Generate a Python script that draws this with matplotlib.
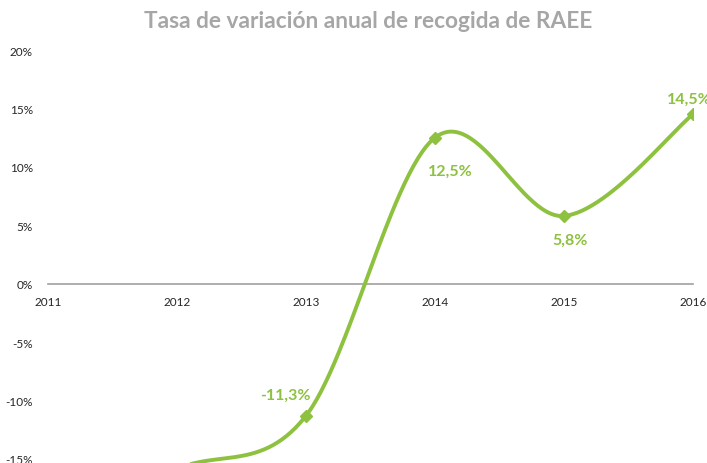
import numpy as np
import matplotlib
matplotlib.use("Agg")
import matplotlib.pyplot as plt

years = [2011, 2012, 2013, 2014, 2015, 2016]
values = [-21.0, -15.85, -11.3, 12.5, 5.8, 14.5]
labels = {2013: "-11,3%", 2014: "12,5%", 2015: "5,8%", 2016: "14,5%"}
yticks = [-15, -10, -5, 0, 5, 10, 15, 20]
title = "Tasa de variación anual de recogida de RAEE"

GREEN = "#8DC13F"
GREY_T = "#A6A6A6"

plt.rcParams['font.family'] = ['Lato', 'DejaVu Sans']

def smooth(xs, ys, n=60):
    pts = np.column_stack([xs, ys]).astype(float)
    P = np.vstack([pts[0], pts, pts[-1]])
    out = []
    for i in range(1, len(P) - 2):
        p0, p1, p2, p3 = P[i - 1], P[i], P[i + 1], P[i + 2]
        c1 = p1 + (p2 - p0) / 6.0
        c2 = p2 - (p3 - p1) / 6.0
        t = np.linspace(0, 1, n)[:, None]
        seg = ((1 - t) ** 3) * p1 + 3 * ((1 - t) ** 2) * t * c1 + 3 * (1 - t) * t ** 2 * c2 + t ** 3 * p2
        out.append(seg if i == 1 else seg[1:])
    s = np.vstack(out)
    return s[:, 0], s[:, 1]

W, H = 707, 464
fig = plt.figure(figsize=(W / 100, H / 100), dpi=100)
left, right = 48, 693
top = 51
ax = fig.add_axes([left / W, 0, (right - left) / W, (H - top) / H])

ax.set_xlim(years[0], years[-1])
ymin = -15 - (H - 460) / 58.3 * 5
ax.set_ylim(ymin, 20)

sx, sy = smooth(years, values)
ax.plot(sx, sy, color=GREEN, lw=2.8, solid_capstyle='round', zorder=3)
ax.plot(years, values, ls='none', marker='D', ms=6, color=GREEN, zorder=4)

offsets = {2013: (-15, 15), 2014: (11, -24), 2015: (4, -17), 2016: (-3, 11)}
for yr, v in zip(years, values):
    if yr in labels:
        dx, dy = offsets[yr]
        ax.annotate(labels[yr], (yr, v), xytext=(dx, dy), textcoords='offset points',
                    ha='center', va='center', color=GREEN, fontsize=11.5,
                    fontweight='bold', annotation_clip=False)

for s in ['top', 'right', 'left']:
    ax.spines[s].set_visible(False)
ax.spines['bottom'].set_position(('data', 0))
ax.spines['bottom'].set_color('#A0A0A0')
ax.spines['bottom'].set_linewidth(1.2)

ax.set_xticks(years)
ax.set_xticklabels([str(y) for y in years], fontsize=8.5, color='#262626')
ax.tick_params(axis='x', length=0, pad=9)
ax.set_yticks(yticks)
ax.set_yticklabels([f"{t}%" for t in yticks], fontsize=8.5, color='#262626')
ax.tick_params(axis='y', length=0, pad=11)

fig.text(368 / W, 1 - 21 / H, title, ha='center', va='center', fontsize=16.3,
         fontweight='bold', color=GREY_T)

fig.savefig("out.png", dpi=100)
